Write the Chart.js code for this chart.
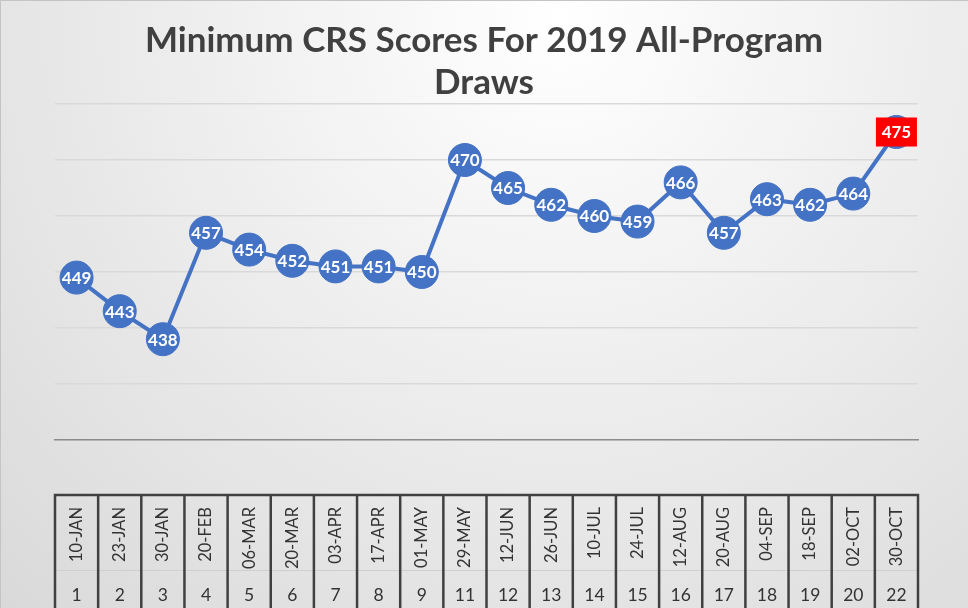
<!DOCTYPE html>
<html>
<head>
<meta charset="utf-8">
<style>
  html, body { margin: 0; padding: 0; background: #ffffff; }
  #wrap { width: 968px; height: 608px; position: relative; }
</style>
<script src="https://cdn.jsdelivr.net/npm/chart.js@4/dist/chart.umd.min.js"></script>
</head>
<body>
<div id="wrap"><canvas id="c"></canvas></div>
<script>
// ---- data ----
const drawDates = ['10-JAN','23-JAN','30-JAN','20-FEB','06-MAR','20-MAR','03-APR','17-APR','01-MAY','29-MAY',
                   '12-JUN','26-JUN','10-JUL','24-JUL','12-AUG','20-AUG','04-SEP','18-SEP','02-OCT','30-OCT'];
const drawNumbers = ['1','2','3','4','5','6','7','8','9','11','12','13','14','15','16','17','18','19','20','22'];
const minScores = [449, 443, 438, 457, 454, 452, 451, 451, 450, 470, 465, 462, 460, 459, 466, 457, 463, 462, 464, 475];
const highlightIndex = 19;
const yMin = 420, yMax = 480, yStep = 10;
const titleLines = ['Minimum CRS Scores For 2019 All-Program', 'Draws'];

// ---- plugins ----
const bgPlugin = {
  id: 'bg',
  beforeDraw(chart) {
    const { ctx, width, height } = chart;
    ctx.save();
    const g = ctx.createRadialGradient(560, 20, 0, 560, 20, 900);
    g.addColorStop(0, '#ffffff');
    g.addColorStop(1, '#d5d5d5');
    ctx.fillStyle = g;
    ctx.fillRect(0, 0, width, height);
    ctx.strokeStyle = '#c4c4c4';
    ctx.lineWidth = 1;
    ctx.beginPath();
    ctx.moveTo(0.5, height);
    ctx.lineTo(0.5, 0.5);
    ctx.lineTo(width, 0.5);
    ctx.stroke();
    ctx.restore();
  }
};

const tablePlugin = {
  id: 'table',
  afterDraw(chart) {
    const x = chart.scales.x;
    const ctx = chart.ctx;
    const n = drawDates.length;
    const step = x.getPixelForValue(1) - x.getPixelForValue(0);
    const top = 495, mid = 570, bottom = chart.height;
    ctx.save();
    ctx.strokeStyle = '#cfcfcf';
    ctx.lineWidth = 1;
    ctx.beginPath();
    ctx.moveTo(x.left, mid + 0.5);
    ctx.lineTo(x.right, mid + 0.5);
    ctx.stroke();
    ctx.strokeStyle = '#404040';
    ctx.lineWidth = 2.5;
    ctx.beginPath();
    ctx.moveTo(x.left - 1.25, top);
    ctx.lineTo(x.right + 1.25, top);
    for (let i = 0; i <= n; i++) {
      const px = i < n ? x.getPixelForValue(i) - step / 2 : x.getPixelForValue(n - 1) + step / 2;
      ctx.moveTo(px, top);
      ctx.lineTo(px, bottom);
    }
    ctx.stroke();
    ctx.restore();
  }
};

const labelPlugin = {
  id: 'vals',
  afterDatasetsDraw(chart) {
    const meta = chart.getDatasetMeta(0);
    const ctx = chart.ctx;
    ctx.save();
    ctx.font = 'bold 17px Lato';
    ctx.textAlign = 'center';
    ctx.textBaseline = 'middle';
    meta.data.forEach((pt, i) => {
      if (i === highlightIndex) {
        ctx.fillStyle = '#ff0000';
        ctx.fillRect(pt.x - 20.5, pt.y - 14.5, 41, 29);
      }
      ctx.fillStyle = '#ffffff';
      ctx.fillText(String(minScores[i]), pt.x, pt.y + 1);
    });
    ctx.restore();
  }
};

new Chart(document.getElementById('c'), {
  type: 'line',
  data: {
    labels: drawDates,
    datasets: [{
      data: minScores,
      borderColor: '#4472C4',
      backgroundColor: '#4472C4',
      borderWidth: 4,
      pointRadius: 16.5,
      pointBorderWidth: 1,
      pointBorderColor: '#4472C4',
      pointBackgroundColor: '#4472C4',
      tension: 0,
      fill: false
    }]
  },
  options: {
    responsive: true,
    maintainAspectRatio: false,
    animation: false,
    events: [],
    layout: { padding: 0, autoPadding: false },
    plugins: {
      legend: { display: false },
      tooltip: { enabled: false },
      title: {
        display: true,
        text: titleLines,
        color: '#404040',
        font: { family: 'Lato', size: 35, weight: 'bold', lineHeight: '42.5px' },
        padding: { top: 19, bottom: 0 }
      }
    },
    scales: {
      x: {
        type: 'category',
        position: 'bottom',
        offset: true,
        grid: { display: false, drawTicks: false },
        border: { display: true, color: '#8c8c8c', width: 1.5 },
        ticks: {
          autoSkip: false, minRotation: 90, maxRotation: 90, padding: 67,
          color: '#333333', font: { family: 'Lato', size: 16.5 }
        },
        afterFit(s) { s.height = 130; s.paddingLeft = 0; s.paddingRight = 0; }
      },
      x2: {
        type: 'category',
        position: 'bottom',
        labels: drawNumbers,
        offset: true,
        grid: { display: false, drawTicks: false },
        border: { display: false },
        ticks: {
          autoSkip: false, maxRotation: 0, minRotation: 0, padding: 15,
          color: '#333333', font: { family: 'Lato', size: 17.5 }
        },
        afterFit(s) { s.height = 38; s.paddingLeft = 0; s.paddingRight = 0; }
      },
      y: {
        position: 'left',
        min: yMin, max: yMax,
        grid: { color: '#d9d9d9', lineWidth: 1.5, drawTicks: false },
        border: { display: false },
        ticks: { display: false, stepSize: yStep },
        afterFit(s) { s.width = 55; }
      },
      yRight: {
        position: 'right',
        min: yMin, max: yMax,
        grid: { display: false, drawTicks: false },
        border: { display: false },
        ticks: { display: false },
        afterFit(s) { s.width = 50; }
      }
    }
  },
  plugins: [bgPlugin, tablePlugin, labelPlugin]
});
</script>
</body>
</html>
